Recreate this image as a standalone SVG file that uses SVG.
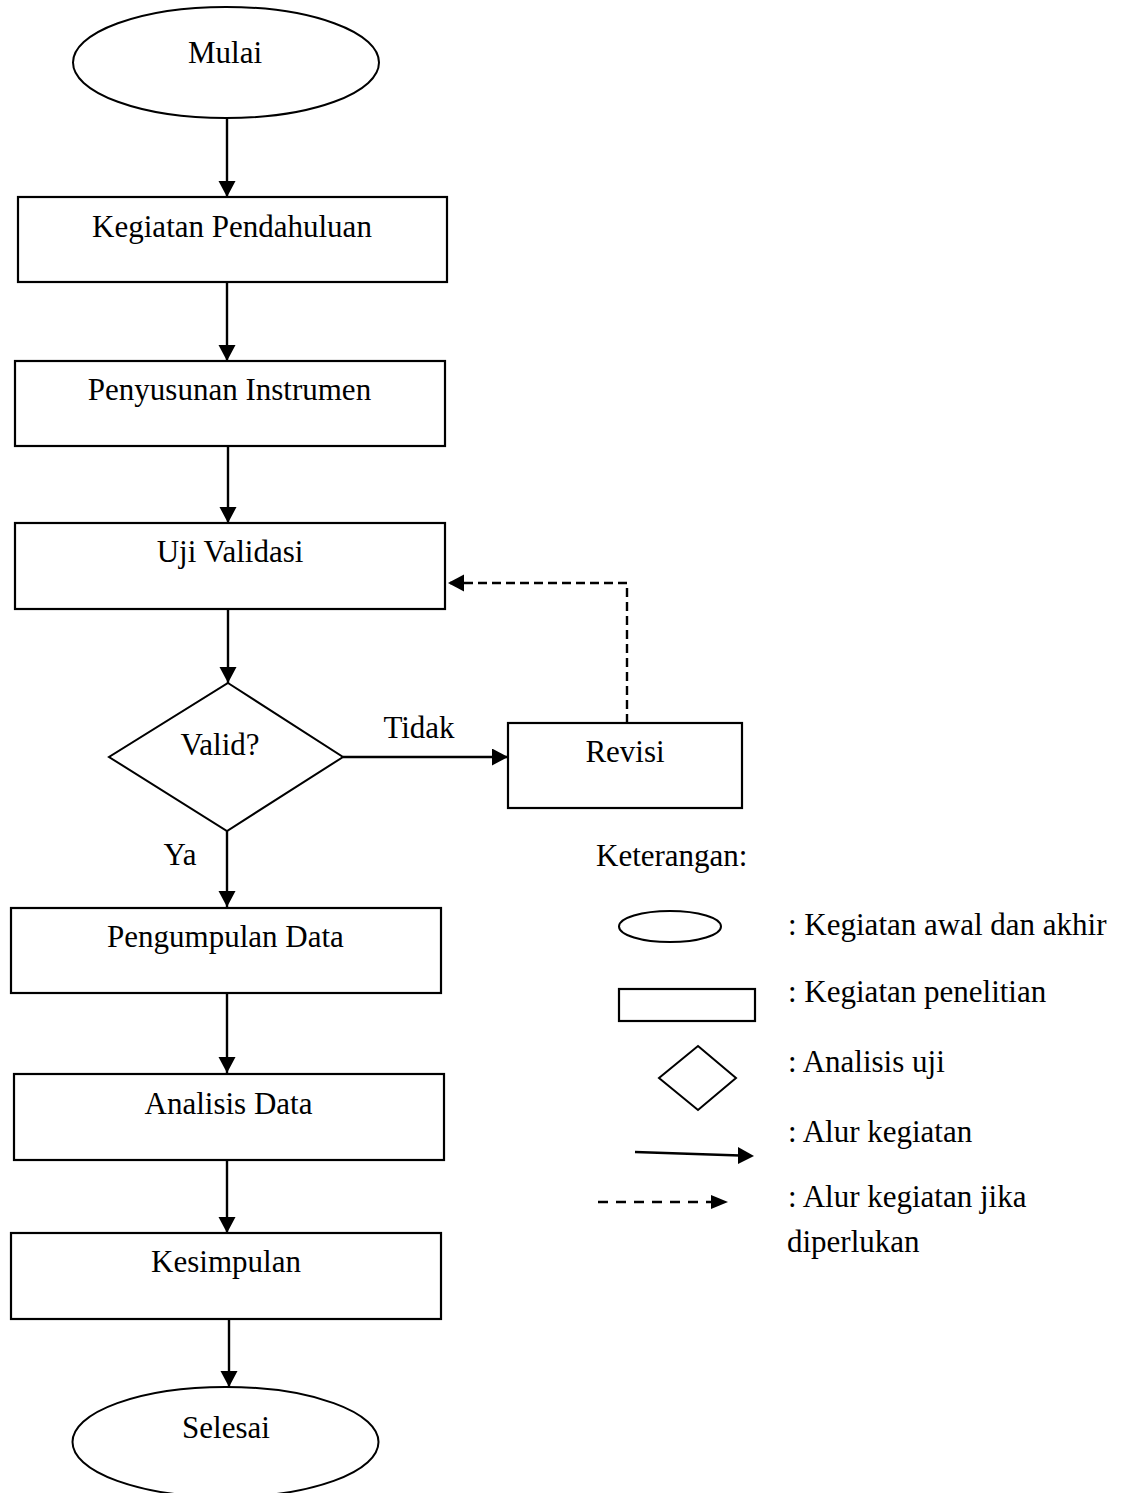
<svg xmlns="http://www.w3.org/2000/svg" width="1136" height="1493" viewBox="0 0 1136 1493">
<style>
.shape{fill:#fff;stroke:#000;stroke-width:2.2}
.thin{fill:none;stroke:#000;stroke-width:2}
.lbl{font-family:"Liberation Serif","Times New Roman",serif;font-size:31px;fill:#000}
.mid{text-anchor:middle}
.conn{fill:none;stroke:#000;stroke-width:2.4}
.dash{stroke-dasharray:9 5}
</style>
<defs>
<marker id="arr" markerUnits="userSpaceOnUse" markerWidth="18" markerHeight="18" refX="16" refY="8.5" orient="auto">
<path d="M0,0 L16,8.5 L0,17 z" fill="#000"/>
</marker>
</defs>
<rect width="1136" height="1493" fill="#fff"/>

<g id="connectors">
<line class="conn" x1="227" y1="118" x2="227" y2="197" marker-end="url(#arr)"/>
<line class="conn" x1="227" y1="282" x2="227" y2="361" marker-end="url(#arr)"/>
<line class="conn" x1="228" y1="446" x2="228" y2="523" marker-end="url(#arr)"/>
<line class="conn" x1="228" y1="604" x2="228" y2="683" marker-end="url(#arr)"/>
<line class="conn" x1="343" y1="757" x2="508" y2="757" marker-end="url(#arr)"/>
<line class="conn" x1="227" y1="831" x2="227" y2="907" marker-end="url(#arr)"/>
<line class="conn" x1="227" y1="989" x2="227" y2="1073" marker-end="url(#arr)"/>
<line class="conn" x1="227" y1="1159" x2="227" y2="1233" marker-end="url(#arr)"/>
<line class="conn" x1="229" y1="1305" x2="229" y2="1387" marker-end="url(#arr)"/>
<path class="conn dash" d="M627,723 V583 H448" marker-end="url(#arr)"/>
<text class="lbl mid" x="419" y="738">Tidak</text>
<text class="lbl mid" x="180" y="865">Ya</text>
</g>

<g id="mulai">
<ellipse class="thin" cx="226" cy="62.5" rx="153" ry="55.5"/>
<text class="lbl mid" x="225" y="63">Mulai</text>
</g>
<g id="pendahuluan">
<rect class="shape" x="18" y="197" width="429" height="85"/>
<text class="lbl mid" x="232" y="237">Kegiatan Pendahuluan</text>
</g>
<g id="instrumen">
<rect class="shape" x="15" y="361" width="430" height="85"/>
<text class="lbl mid" x="229.5" y="400">Penyusunan Instrumen</text>
</g>
<g id="validasi">
<rect class="shape" x="15" y="523" width="430" height="86"/>
<text class="lbl mid" x="230" y="562">Uji Validasi</text>
</g>
<g id="valid">
<polygon class="thin" points="228,683 343,757 227,831 109,757" fill="#fff"/>
<text class="lbl mid" x="220" y="755">Valid?</text>
</g>
<g id="revisi">
<rect class="shape" x="508" y="723" width="234" height="85"/>
<text class="lbl mid" x="625" y="762">Revisi</text>
</g>
<g id="pengumpulan">
<rect class="shape" x="11" y="908" width="430" height="85"/>
<text class="lbl mid" x="225.5" y="947">Pengumpulan Data</text>
</g>
<g id="analisis">
<rect class="shape" x="14" y="1074" width="430" height="86"/>
<text class="lbl mid" x="228.5" y="1114">Analisis Data</text>
</g>
<g id="kesimpulan">
<rect class="shape" x="11" y="1233" width="430" height="86"/>
<text class="lbl mid" x="226" y="1272">Kesimpulan</text>
</g>
<g id="selesai">
<ellipse class="thin" cx="225.5" cy="1442" rx="153" ry="55"/>
<text class="lbl mid" x="226" y="1438">Selesai</text>
</g>

<g id="legend">
<text class="lbl" x="596" y="866">Keterangan:</text>
<ellipse class="thin" cx="670" cy="926.5" rx="51" ry="15.5"/>
<text class="lbl" x="788" y="935">: Kegiatan awal dan akhir</text>
<rect class="shape" x="619" y="989" width="136" height="32"/>
<text class="lbl" x="788" y="1002">: Kegiatan penelitian</text>
<polygon class="thin" points="698,1046 736,1078 698,1110 659,1078"/>
<text class="lbl" x="788" y="1072">: Analisis uji</text>
<line class="conn" x1="635" y1="1152" x2="740" y2="1155.5"/>
<polygon points="738,1147 754,1156 738,1164" fill="#000"/>
<text class="lbl" x="788" y="1142">: Alur kegiatan</text>
<line class="conn" x1="598" y1="1202" x2="712" y2="1202" stroke-dasharray="10 8"/>
<polygon points="711,1195 728,1202 711,1209" fill="#000"/>
<text class="lbl" x="788" y="1207">: Alur kegiatan jika</text>
<text class="lbl" x="787" y="1252">diperlukan</text>
</g>
</svg>
